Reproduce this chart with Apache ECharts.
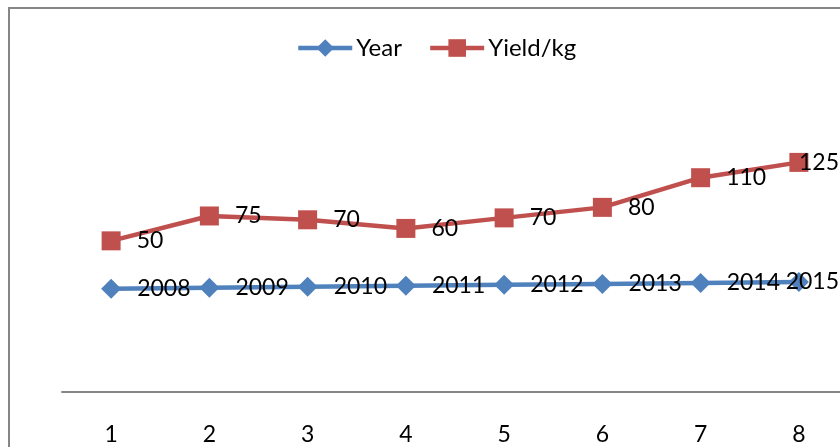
<!DOCTYPE html>
<html>
<head>
<meta charset="utf-8">
<script src="https://cdn.jsdelivr.net/npm/echarts@6/dist/echarts.min.js"></script>
<style>
  html, body { margin: 0; padding: 0; background: #fff; }
  #chart { width: 840px; height: 447px; }
</style>
</head>
<body>
<div id="chart"></div>
<script>
var categories = ['1', '2', '3', '4', '5', '6', '7', '8'];
var years = [2008, 2009, 2010, 2011, 2012, 2013, 2014, 2015];
var yields = [50, 75, 70, 60, 70, 80, 110, 125];

var myChart = echarts.init(document.getElementById('chart'));
var font = 'Lato, "Noto Sans", sans-serif';

// keep end labels inside the picture, like excel does
function keepInside(params) {
  var r = params.labelRect;
  var over = r.x + r.width - 839;
  return over > 0 ? { dx: -over } : {};
}

var option = {
  animation: false,
  graphic: [{
    type: 'rect',
    shape: { x: 9, y: 8, width: 900, height: 500 },
    style: { fill: 'none', stroke: '#868686', lineWidth: 2 },
    silent: true
  }],
  legend: {
    top: 31,
    left: 291,
    itemWidth: 54,
    itemHeight: 22,
    itemGap: 26,
    lineStyle: { width: 4.5 },
    textStyle: { fontFamily: font, fontSize: 24, color: '#000', padding: [0, 0, 0, -1] },
    data: ['Year', 'Yield/kg']
  },
  grid: { left: 62, width: 786, top: 105, bottom: 55, outerBoundsMode: 'none' },
  xAxis: {
    type: 'category',
    data: categories,
    axisLine: { lineStyle: { color: '#868686', width: 2 } },
    axisTick: { show: false },
    axisLabel: { fontFamily: font, fontSize: 23, color: '#000', margin: 31 }
  },
  yAxis: {
    type: 'value',
    min: 1900,
    max: 2200,
    show: false,
    splitLine: { show: false }
  },
  series: [{
    name: 'Year',
    type: 'line',
    stack: 'total',
    data: years,
    symbol: 'diamond',
    symbolSize: 20,
    color: '#4F81BD',
    lineStyle: { width: 4.5, color: '#4F81BD' },
    itemStyle: { color: '#4F81BD' },
    label: {
      show: true, position: 'right', distance: 16, offset: [0, 4],
      fontFamily: font, fontSize: 23, color: '#000'
    },
    labelLayout: keepInside
  }, {
    name: 'Yield/kg',
    type: 'line',
    stack: 'total',
    data: yields,
    symbol: 'rect',
    symbolSize: 19,
    color: '#C0504D',
    lineStyle: { width: 4.5, color: '#C0504D' },
    itemStyle: { color: '#C0504D' },
    label: {
      show: true, position: 'right', distance: 16, offset: [0, 4],
      fontFamily: font, fontSize: 23, color: '#000'
    },
    labelLayout: keepInside
  }]
};
myChart.setOption(option, true);
window.addEventListener('resize', function () {
  myChart.resize();
});
</script>
</body>
</html>
